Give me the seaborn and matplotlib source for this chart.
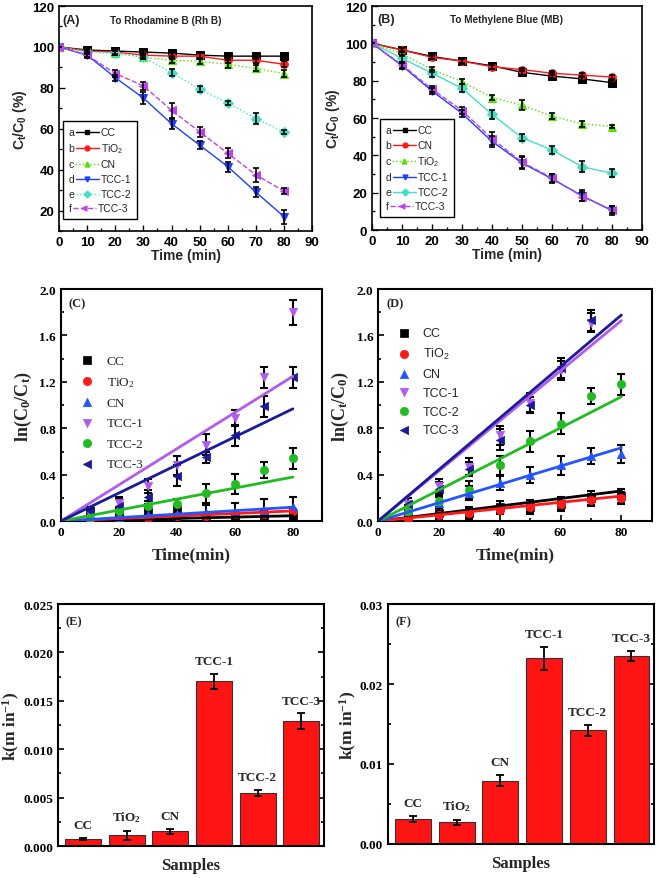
import numpy as np
import seaborn as sns
import matplotlib.pyplot as plt
from matplotlib.lines import Line2D
from matplotlib.ticker import MultipleLocator, FormatStrFormatter
from matplotlib.offsetbox import AnchoredOffsetbox, VPacker, HPacker, TextArea, DrawingArea

sns.set_theme(style='ticks')
plt.rcParams['font.family'] = ['Liberation Sans', 'DejaVu Sans']
plt.rcParams['mathtext.default'] = 'regular'

# ---- data ----
time = [0, 10, 20, 30, 40, 50, 60, 70, 80]
letters = ['a', 'b', 'c', 'd', 'e', 'f']

# (A) Rhodamine B, Ct/C0 (%)
rhb_labels = ['CC', 'TiO$_2$', 'CN', 'TCC-1', 'TCC-2', 'TCC-3']
rhb_cc = [100, 98.5, 98, 97.5, 97, 96, 95.5, 95.5, 95.5]
rhb_tio2 = [100, 98, 97.5, 96, 95.5, 95.5, 93.5, 93.5, 91.5]
rhb_cn = [100, 98, 97, 95, 93.5, 93, 91.5, 89.5, 87]
rhb_tcc1 = [100, 96, 85, 75, 62.5, 52, 41.5, 29, 17]
rhb_tcc2 = [100, 97.5, 97, 95, 87.5, 79.5, 72.5, 65, 58.5]
rhb_tcc3 = [100, 96, 87, 81, 69, 58.5, 48, 37.5, 29.5]
rhb_err = [
    [0, 1.5, 1.5, 1.5, 1.5, 1.5, 1.5, 1.5, 1.5],
    [0, 1, 1.5, 1, 1.5, 1.5, 1.5, 1.5, 1.5],
    [0, 1, 1, 1, 1.5, 1.5, 2, 1.5, 1.5],
    [0, 1.5, 1.5, 3, 2.5, 2, 2.5, 2.5, 3.5],
    [0, 1, 1, 1, 1.5, 1.5, 1, 2.5, 1],
    [0, 1, 1.5, 2, 3.5, 2.5, 2.5, 3.5, 1.5],
]

# (B) Methylene blue, Ct/C0 (%)
mb_labels = ['CC', 'CN', 'TiO$_2$', 'TCC-1', 'TCC-2', 'TCC-3']
mb_cc = [100, 96.5, 93, 90.5, 88, 84.5, 82.5, 81, 79]
mb_cn = [100, 96.5, 92.5, 90.5, 87.5, 86, 84, 83, 82]
mb_tio2 = [100, 94.5, 86, 79.5, 71, 67, 61, 57, 55.5]
mb_tcc1 = [100, 88, 74.5, 62.5, 47.5, 36, 27.5, 18.5, 10.5]
mb_tcc2 = [100, 92, 84, 76, 62, 49.5, 43, 34, 30.5]
mb_tcc3 = [100, 88.5, 75.5, 64, 49, 36.5, 28, 18, 11]
mb_err = [
    [0, 1, 1.5, 1.5, 1.5, 1.5, 1.5, 1.5, 1.5],
    [0, 1, 1, 1, 1, 1, 1, 1, 1],
    [0, 1.5, 1.5, 1.5, 1.5, 2.5, 1.5, 1.5, 1],
    [0, 1.5, 1.5, 2, 3, 3, 2.5, 3, 2.5],
    [0, 2, 2, 2, 2.5, 2, 2, 3, 2],
    [0, 1.5, 1.5, 2, 3.5, 3, 2, 2.5, 2],
]

# (C) ln(C0/Ct) for RhB
t_k = [10, 20, 30, 40, 50, 60, 70, 80]
kin_labels = ['CC', 'TiO$_2$', 'CN', 'TCC-1', 'TCC-2', 'TCC-3']
lnc_cc = [0.09, 0.07, 0.08, 0.1, 0.03, 0.03, 0.03, 0.04]
lnc_tio2 = [0.01, 0.02, 0.03, 0.04, 0.045, 0.06, 0.065, 0.085]
lnc_cn = [0.02, 0.03, 0.05, 0.06, 0.07, 0.08, 0.1, 0.12]
lnc_tcc1 = [0.05, 0.16, 0.3, 0.48, 0.66, 0.89, 1.24, 1.8]
lnc_tcc2 = [0.03, 0.09, 0.13, 0.15, 0.24, 0.32, 0.44, 0.54]
lnc_tcc3 = [0.09, 0.13, 0.21, 0.39, 0.55, 0.74, 0.99, 1.24]
lnc_err = [
    [0.03, 0.03, 0.03, 0.03, 0.03, 0.03, 0.03, 0.03],
    [0.02, 0.02, 0.02, 0.02, 0.02, 0.02, 0.02, 0.02],
    [0.02, 0.03, 0.04, 0.05, 0.07, 0.08, 0.09, 0.09],
    [0.03, 0.05, 0.06, 0.08, 0.09, 0.07, 0.09, 0.11],
    [0.02, 0.03, 0.04, 0.04, 0.08, 0.09, 0.07, 0.09],
    [0.02, 0.06, 0.06, 0.09, 0.05, 0.09, 0.09, 0.09],
]
fit_k_rhb = [0.00058, 0.0011, 0.0015, 0.0156, 0.00475, 0.0121]

# (D) ln(Ct/C0) for MB (TCC-1/TCC-3 at 80 min are off scale)
lnd_cc = [0.05, 0.07, 0.07, 0.12, 0.12, 0.15, 0.2, 0.22]
lnd_tio2 = [0.02, 0.05, 0.07, 0.1, 0.12, 0.15, 0.18, 0.2]
lnd_cn = [0.07, 0.16, 0.24, 0.33, 0.4, 0.48, 0.56, 0.58]
lnd_tcc1 = [0.15, 0.3, 0.47, 0.74, 1.02, 1.3, 1.71, np.nan]
lnd_tcc2 = [0.08, 0.17, 0.27, 0.48, 0.69, 0.84, 1.08, 1.18]
lnd_tcc3 = [0.15, 0.28, 0.45, 0.7, 1.0, 1.32, 1.73, np.nan]
lnd_err = [
    [0.05, 0.05, 0.05, 0.05, 0.06, 0.06, 0.06, 0.06],
    [0.03, 0.03, 0.04, 0.04, 0.04, 0.05, 0.05, 0.05],
    [0.05, 0.05, 0.06, 0.06, 0.07, 0.08, 0.07, 0.08],
    [0.05, 0.06, 0.07, 0.08, 0.08, 0.08, 0.08, 0],
    [0.06, 0.06, 0.08, 0.08, 0.09, 0.09, 0.07, 0.09],
    [0.05, 0.06, 0.06, 0.09, 0.07, 0.09, 0.09, 0],
]
fit_k_mb = [0.00325, 0.0027, 0.0079, 0.0216, 0.0134, 0.0222]

# (E), (F) rate constants
bar_labels = ['CC', 'TiO$_2$', 'CN', 'TCC-1', 'TCC-2', 'TCC-3']
k_rhb = [0.0007, 0.0011, 0.0015, 0.0170, 0.0055, 0.0129]
k_rhb_err = [0.0001, 0.0005, 0.0003, 0.0008, 0.0003, 0.0008]
k_mb = [0.0031, 0.0027, 0.0079, 0.0232, 0.0142, 0.0235]
k_mb_err = [0.0004, 0.0003, 0.0007, 0.0014, 0.0007, 0.0006]

# ---- styles ----
ab_colors = ['black', '#ff1a1a', '#55e000', '#1f3fff', '#40e0c8', '#c040f0']
ab_markers = ['s', 'o', '^', 'v', 'D', '<']
a_styles = ['-', '-', ':', '-', ':', '--']
b_colors = ['black', '#ff1a1a', '#55e000', '#1f3fff', '#40e0c8', '#c040f0']
b_styles = ['-', '-', ':', '-', '-', '--']
cd_colors = ['black', '#ff1a1a', '#2255ff', '#b05cf0', '#22bb22', '#1a1a9a']
cd_markers = ['s', 'o', '^', 'v', 'o', '<']

sans = ['Liberation Sans', 'DejaVu Sans']
serif = ['Liberation Serif', 'DejaVu Serif']

fig = plt.figure(figsize=(6.61, 8.79), dpi=100)
axA = fig.add_axes([0.0893, 0.736, 0.383, 0.256])
axB = fig.add_axes([0.563, 0.737, 0.408, 0.255])
axC = fig.add_axes([0.092, 0.406, 0.395, 0.264])
axD = fig.add_axes([0.572, 0.406, 0.414, 0.264])
axE = fig.add_axes([0.0877, 0.0364, 0.402, 0.2753])
axF = fig.add_axes([0.587, 0.0387, 0.402, 0.273])


def style_axis(ax, family, lw, size):
    for sp in ax.spines.values():
        sp.set_linewidth(lw)
        sp.set_color('black')
        sp.set_visible(True)
    ax.tick_params(which='both', direction='in', width=lw * 0.8, colors='black')
    ax.tick_params(which='major', length=4)
    ax.tick_params(which='minor', length=2)
    for lab in ax.get_xticklabels() + ax.get_yticklabels():
        lab.set_fontfamily(family)
        lab.set_fontweight('bold')
        lab.set_fontsize(size)


def letter_legend(ax, labels, colors, markers, styles, x, y):
    rows = []
    for let, lab, c, m, ls in zip(letters, labels, colors, markers, styles):
        da = DrawingArea(17, 8, 0, 0)
        da.add_artist(Line2D([0, 17], [4, 4], color=c, ls=ls, lw=1))
        da.add_artist(Line2D([8.5], [4], color=c, marker=m, ms=3.5))
        rows.append(HPacker(children=[
            TextArea(let, textprops=dict(size=7.5, family=sans)),
            da,
            TextArea(lab, textprops=dict(size=7.5, family=sans))],
            align='center', pad=0, sep=1))
    box = VPacker(children=rows, align='left', pad=0, sep=2.6)
    anch = AnchoredOffsetbox(loc='lower left', child=box, pad=0.35, borderpad=0,
                             frameon=True, bbox_to_anchor=(x, y),
                             bbox_transform=ax.transAxes)
    anch.patch.set_edgecolor('black')
    anch.patch.set_linewidth(1)
    anch.patch.set_boxstyle('square', pad=0)
    ax.add_artist(anch)


# ---- (A) and (B) ----
rhb_series = [rhb_cc, rhb_tio2, rhb_cn, rhb_tcc1, rhb_tcc2, rhb_tcc3]
mb_series = [mb_cc, mb_cn, mb_tio2, mb_tcc1, mb_tcc2, mb_tcc3]
for ax, series, errs, colors, styles in [(axA, rhb_series, rhb_err, ab_colors, a_styles),
                                         (axB, mb_series, mb_err, b_colors, b_styles)]:
    for vals, err, c, m, ls in zip(series, errs, colors, ab_markers, styles):
        sns.lineplot(x=time, y=vals, ax=ax, color=c, marker=m, linestyle=ls,
                     linewidth=1, markersize=5.5, markeredgecolor=c, zorder=2)
        ax.errorbar(time, vals, yerr=err, fmt='none', ecolor='black',
                    elinewidth=1.2, capsize=2, capthick=1.2, zorder=3)
    ax.set_xlim(0, 90)
    ax.xaxis.set_major_locator(MultipleLocator(10))
    ax.xaxis.set_minor_locator(MultipleLocator(5))
    ax.yaxis.set_major_locator(MultipleLocator(20))
    ax.yaxis.set_minor_locator(MultipleLocator(10))
    ax.set_xlabel('Time (min)', fontsize=10, fontweight='bold', family=sans, labelpad=0)
    ax.set_ylabel('C$_t$/C$_0$ (%)', fontsize=10, fontweight='bold', family=sans, labelpad=2)
    style_axis(ax, sans, 1.2, 9.5)

axA.set_ylim(10, 120)
axA.set_yticks([20, 40, 60, 80, 100, 120])
axB.set_ylim(0, 120)
axA.text(0.015, 0.94, '(A)', transform=axA.transAxes, fontsize=9, fontweight='bold', family=sans, va='center')
axA.text(0.42, 0.94, 'To Rhodamine B (Rh B)', transform=axA.transAxes, fontsize=7.2,
         fontweight='bold', family=sans, ha='center', va='center')
axB.text(0.02, 0.94, '(B)', transform=axB.transAxes, fontsize=9, fontweight='bold', family=sans, va='center')
axB.text(0.50, 0.94, 'To Methylene Blue (MB)', transform=axB.transAxes, fontsize=7.2,
         fontweight='bold', family=sans, ha='center', va='center')
letter_legend(axA, rhb_labels, ab_colors, ab_markers, a_styles, 0.016, 0.053)
letter_legend(axB, mb_labels, b_colors, ab_markers, b_styles, 0.03, 0.058)

# ---- (C) and (D) ----
lnc_series = [lnc_cc, lnc_tio2, lnc_cn, lnc_tcc1, lnc_tcc2, lnc_tcc3]
lnd_series = [lnd_cc, lnd_tio2, lnd_cn, lnd_tcc1, lnd_tcc2, lnd_tcc3]
x_fit = np.array([0, 80])
for ax, series, errs, ks in [(axC, lnc_series, lnc_err, fit_k_rhb),
                             (axD, lnd_series, lnd_err, fit_k_mb)]:
    for vals, err, k, c, m, lab in zip(series, errs, ks, cd_colors, cd_markers, kin_labels):
        ax.errorbar(t_k, vals, yerr=err, fmt='none', ecolor='black',
                    elinewidth=1.5, capsize=3, capthick=1.5, zorder=2)
        sns.scatterplot(x=t_k, y=vals, ax=ax, color=c, marker=m, s=36,
                        edgecolor=c, linewidth=0.5, label=lab, zorder=3)
        sns.lineplot(x=x_fit, y=x_fit * k, ax=ax, color=c, linewidth=2, zorder=4)
    ax.set_xlim(0, 90)
    ax.set_ylim(0, 2.0)
    ax.set_xticks([0, 20, 40, 60, 80])
    ax.xaxis.set_minor_locator(MultipleLocator(10))
    ax.yaxis.set_major_locator(MultipleLocator(0.4))
    ax.yaxis.set_minor_locator(MultipleLocator(0.2))
    ax.yaxis.set_major_formatter(FormatStrFormatter('%.1f'))
    ax.set_xlabel('Time(min)', fontsize=12.5, fontweight='bold', family=serif, labelpad=6)
    style_axis(ax, serif, 1.5, 9.5)

axC.set_ylabel('ln(C$_0$/C$_t$)', fontsize=13, fontweight='bold', family=serif, labelpad=4)
axD.set_ylabel('ln(C$_t$/C$_0$)', fontsize=13, fontweight='bold', family=serif, labelpad=4)
axC.text(0.03, 0.94, '(C)', transform=axC.transAxes, fontsize=9, fontweight='bold', family=serif, va='center')
axD.text(0.03, 0.94, '(D)', transform=axD.transAxes, fontsize=9, fontweight='bold', family=serif, va='center')
axC.legend(frameon=False, loc='upper left', bbox_to_anchor=(0.03, 0.77), handlelength=1,
           handletextpad=1.0, labelspacing=0.62, prop=dict(family=serif, size=9.5))
axD.legend(frameon=False, loc='upper left', bbox_to_anchor=(0.03, 0.885), handlelength=1,
           handletextpad=1.0, labelspacing=0.55, prop=dict(family=sans, size=9))

# ---- (E) and (F) ----
xpos = np.arange(len(bar_labels))
for ax, ks, errs, off in [(axE, k_rhb, k_rhb_err, 0.0007), (axF, k_mb, k_mb_err, 0.0009)]:
    sns.barplot(x=bar_labels, y=ks, ax=ax, color='#ff1414', saturation=1,
                edgecolor='#333333', linewidth=0.8, width=0.82)
    ax.errorbar(xpos, ks, yerr=errs, fmt='none', ecolor='black',
                elinewidth=1.3, capsize=3, capthick=1.3, zorder=3)
    for i, (k, e, lab) in enumerate(zip(ks, errs, bar_labels)):
        ax.text(i, k + e + off, lab, ha='center', va='bottom', fontsize=9.5,
                fontweight='bold', family=serif)
    ax.set_xlim(-0.57, 5.51)
    ax.set_xticks([])
    ax.set_xlabel('Samples', fontsize=12, fontweight='bold', family=serif, labelpad=8)
    ax.set_ylabel('k(m in$^{-1}$)', fontsize=12.5, fontweight='bold', family=serif, labelpad=1)
    ax.tick_params(axis='y', which='both', right=True)
    style_axis(ax, serif, 1.5, 9.5)

axE.set_ylim(0, 0.025)
axE.yaxis.set_major_locator(MultipleLocator(0.005))
axE.yaxis.set_minor_locator(MultipleLocator(0.0025))
axE.yaxis.set_major_formatter(FormatStrFormatter('%.3f'))
axF.set_ylim(0, 0.03)
axF.yaxis.set_major_locator(MultipleLocator(0.01))
axF.yaxis.set_minor_locator(MultipleLocator(0.005))
axF.yaxis.set_major_formatter(FormatStrFormatter('%.2f'))
for ax in (axE, axF):
    for lab in ax.get_yticklabels():
        lab.set_fontfamily(serif)
        lab.set_fontweight('bold')
        lab.set_fontsize(9.5)
axE.text(0.03, 0.93, '(E)', transform=axE.transAxes, fontsize=9, fontweight='bold', family=serif, va='center')
axF.text(0.03, 0.93, '(F)', transform=axF.transAxes, fontsize=9, fontweight='bold', family=serif, va='center')

fig.savefig('out.png', dpi=100)
